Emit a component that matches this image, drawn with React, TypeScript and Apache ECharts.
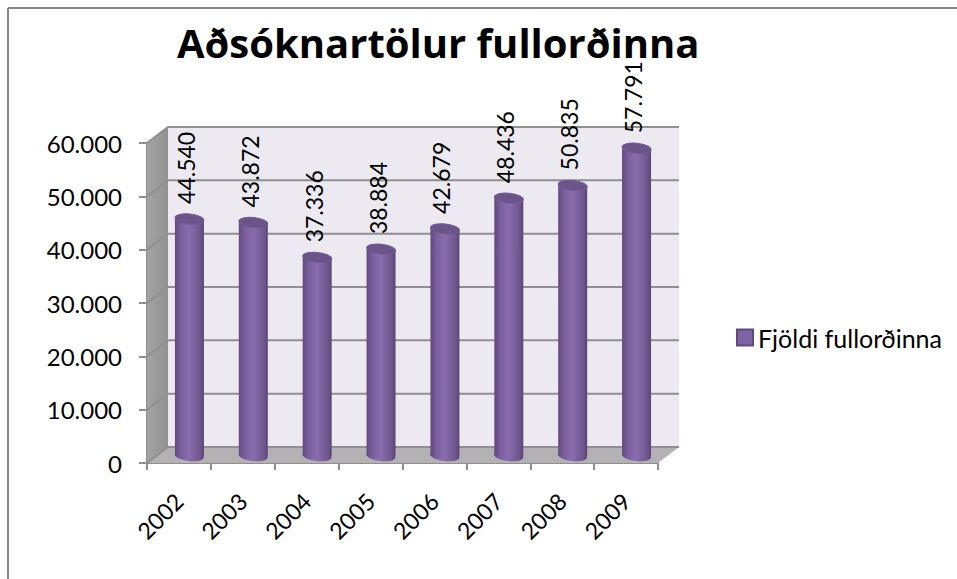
import React, { useEffect, useRef } from "react";
import * as echarts from "echarts";

const categories = ["2002", "2003", "2004", "2005", "2006", "2007", "2008", "2009"];
const seriesName = "Fjöldi fullorðinna";
const adults = [44540, 43872, 37336, 38884, 42679, 48436, 50835, 57791];
const gridValues = [0, 10000, 20000, 30000, 40000, 50000, 60000];
const titleText = "Aðsóknartölur fullorðinna";

const fmt = (v: number) => {
  const s = String(Math.round(v));
  return s.replace(/\B(?=(\d{3})+(?!\d))/g, ".");
};

const DX = 21;
const DY = 16;
const GRID = "#8f8f8f";
const FONT = "Lato, sans-serif";

export default function App() {
  const ref = useRef<HTMLDivElement>(null);
  useEffect(() => {
    const chart = echarts.init(ref.current!, undefined, { renderer: "svg" });
    const bodyFill = new echarts.graphic.LinearGradient(0, 0, 1, 0, [
      { offset: 0, color: "#5f4a7d" },
      { offset: 0.2, color: "#7a5e9c" },
      { offset: 0.5, color: "#8a6cac" },
      { offset: 0.85, color: "#71578f" },
      { offset: 1, color: "#5a4676" },
    ]);
    chart.setOption({
      animation: false,
      backgroundColor: "#ffffff",
      title: {
        text: titleText,
        left: 172,
        top: 17,
        z: 0,
        textStyle: { fontFamily: "'Open Sans', sans-serif", fontWeight: "bold", fontSize: 40, color: "#000" },
      },
      legend: {
        data: [{ name: seriesName, icon: "rect" }],
        left: 731,
        top: 320,
        itemWidth: 16,
        itemHeight: 16,
        itemGap: 0,
        selectedMode: false,
        textStyle: { fontFamily: FONT, fontSize: 25, color: "#000" },
      },
      grid: { left: 147, right: 299, top: 143, bottom: 116 },
      xAxis: {
        type: "category",
        data: categories,
        axisLine: { lineStyle: { color: GRID, width: 2 } },
        axisTick: { show: true, length: 7, lineStyle: { color: GRID, width: 2 } },
        axisLabel: { rotate: 45, margin: 34, fontFamily: FONT, fontSize: 23, color: "#000", interval: 0 },
        splitLine: { show: false },
      },
      yAxis: {
        type: "value",
        min: 0,
        max: 60000,
        interval: 10000,
        axisLine: { show: true, lineStyle: { color: GRID, width: 2 } },
        axisTick: { show: true, length: 8, lineStyle: { color: GRID, width: 2 } },
        axisLabel: { margin: 25, fontFamily: FONT, fontSize: 24, color: "#000", padding: [3, 0, 0, 0], formatter: (v: number) => fmt(v) },
        splitLine: { show: false },
      },
      graphic: [
        { type: "line", shape: { x1: 8, y1: 8, x2: 957, y2: 8 }, style: { stroke: "#868686", lineWidth: 2 } },
        { type: "line", shape: { x1: 8, y1: 8, x2: 8, y2: 579 }, style: { stroke: "#868686", lineWidth: 2 } },
      ],
      series: [
        {
          type: "custom",
          name: "walls",
          z: 1,
          silent: true,
          data: [0],
          renderItem: (params: any) => {
            const c = params.coordSys;
            const x0 = c.x, x1 = c.x + c.width, y0 = c.y, y1 = c.y + c.height;
            return {
              type: "group",
              children: [
                { type: "rect", shape: { x: x0 + DX, y: y0 - DY, width: c.width, height: c.height }, style: { fill: "#ece9f1" } },
                {
                  type: "polygon",
                  shape: { points: [[x0, y0], [x0 + DX, y0 - DY], [x0 + DX, y1 - DY], [x0, y1]] },
                  style: {
                    fill: new echarts.graphic.LinearGradient(0, 0, 1, 0, [
                      { offset: 0, color: "#a3a3a3" },
                      { offset: 1, color: "#929292" },
                    ]),
                  },
                },
                {
                  type: "polygon",
                  shape: { points: [[x0, y1], [x0 + DX, y1 - DY], [x1 + DX, y1 - DY], [x1, y1]] },
                  style: { fill: "#b3b1b4" },
                },
              ],
            };
          },
        },
        {
          type: "custom",
          name: "gridlines",
          z: 2,
          silent: true,
          data: gridValues.map((v) => [0, v]),
          renderItem: (params: any, api: any) => {
            const c = params.coordSys;
            const y = api.coord([0, api.value(1)])[1];
            return {
              type: "polyline",
              shape: { points: [[c.x, y], [c.x + DX, y - DY], [c.x + c.width + DX, y - DY]] },
              style: { stroke: GRID, lineWidth: 2, fill: "none" },
            };
          },
        },
        {
          type: "custom",
          name: seriesName,
          z: 3,
          silent: true,
          itemStyle: { color: "#7f62a2", borderColor: "#5e4a7c", borderWidth: 1 },
          data: adults.map((v, i) => [i, v]),
          encode: { x: 0, y: 1 },
          renderItem: (_: any, api: any) => {
            const i = api.value(0);
            const v = api.value(1);
            const [px, py] = api.coord([i, v]);
            const [, py0] = api.coord([i, 0]);
            const cx = px + 10.5;
            const top = py - 6.5;
            const base = py0 - 7;
            const rx = 14.5;
            const ry = 5;
            const tilt = -0.1;
            return {
              type: "group",
              children: [
                {
                  type: "ellipse",
                  x: cx, y: base, rotation: tilt,
                  shape: { cx: 0, cy: 0, rx, ry },
                  style: { fill: bodyFill },
                },
                {
                  type: "rect",
                  shape: { x: cx - rx, y: top, width: rx * 2, height: base - top },
                  style: { fill: bodyFill },
                },
                {
                  type: "ellipse",
                  x: cx, y: top, rotation: tilt,
                  shape: { cx: 0, cy: 0, rx, ry },
                  style: { fill: "#6b5488", stroke: "#73599a", lineWidth: 1 },
                },
                {
                  type: "text",
                  x: cx - 3.5,
                  y: top - 15,
                  rotation: Math.PI / 2,
                  style: {
                    text: fmt(v),
                    align: "left",
                    verticalAlign: "middle",
                    fontFamily: FONT,
                    fontSize: 23,
                    fill: "#000",
                  },
                },
              ],
            };
          },
        },
      ],
    });
    return () => chart.dispose();
  }, []);
  return <div ref={ref} style={{ position: "absolute", left: 0, top: 0, width: 957, height: 579 }} />;
}
